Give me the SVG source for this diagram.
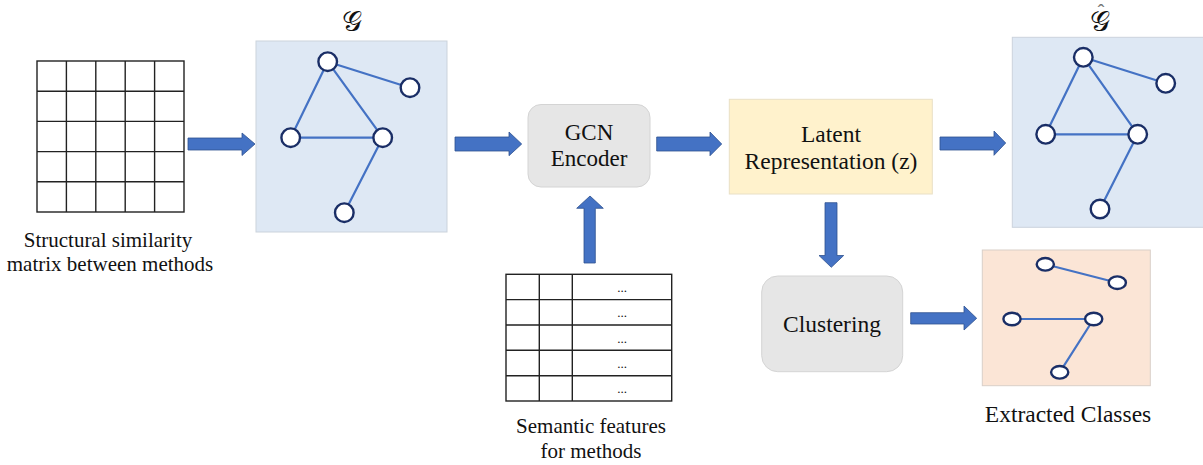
<svg xmlns="http://www.w3.org/2000/svg" width="1203" height="465" viewBox="0 0 1203 465">
<style>
.t{font-family:"Liberation Serif","Times New Roman",serif;fill:#111;text-anchor:middle}
.s21{font-size:21px}
.grid{fill:none;stroke:#222;stroke-width:1.4}
.edge{stroke:#4472c4;stroke-width:2.2;fill:none}
.node{fill:#fff;stroke:#1a2e66;stroke-width:2.4}
.arrow{fill:#4472c4;stroke:#2f528f;stroke-width:0.8}
.gbox{fill:#dee8f4;stroke:#cbd3dc;stroke-width:1}
.math{font-family:"DejaVu Serif","DejaVu Sans","Noto Sans",serif;font-size:28px;fill:#111;text-anchor:middle}
.hat{font-family:"Liberation Sans","DejaVu Sans",sans-serif;font-size:20px;fill:#777;text-anchor:middle}
</style>

<g id="matrix">
<rect class="grid" x="37" y="61" width="147" height="151"/>
<path class="grid" d="M66.4 61V212M95.8 61V212M125.2 61V212M154.6 61V212M37 91.2H184M37 121.4H184M37 151.6H184M37 181.8H184"/>
<text class="t s21" x="108" y="247">Structural similarity</text>
<text class="t s21" x="110" y="271">matrix between methods</text>
</g>

<g id="graph-g">
<text class="math" x="352" y="31">𝒢</text>
<rect class="gbox" x="256" y="41" width="191" height="191"/>
<path class="edge" d="M327.7 61.7L410 87.7M327.7 61.7L290.7 137.7M327.7 61.7L382.7 137.7M290.7 137.7H382.7M382.7 137.7L344.3 212.7"/>
<circle class="node" cx="327.7" cy="61.7" r="9.3"/>
<circle class="node" cx="410" cy="87.7" r="9.3"/>
<circle class="node" cx="290.7" cy="137.7" r="9.3"/>
<circle class="node" cx="382.7" cy="137.7" r="9.3"/>
<circle class="node" cx="344.3" cy="212.7" r="9.3"/>
</g>

<g id="gcn-encoder">
<rect x="528" y="104.5" width="122" height="82.5" rx="13" fill="#e6e6e6" stroke="#d4d4d4" stroke-width="1"/>
<text class="t" font-size="23" x="589" y="140">GCN</text>
<text class="t" font-size="23" x="589" y="166">Encoder</text>
</g>

<g id="features">
<rect class="grid" x="506" y="274.3" width="165.7" height="126.7"/>
<path class="grid" d="M539.3 274.3V401M572.3 274.3V401M506 299.6H671.7M506 325H671.7M506 350.3H671.7M506 375.7H671.7"/>
<g class="t" font-size="13">
<text x="622" y="292">...</text>
<text x="622" y="317">...</text>
<text x="622" y="343">...</text>
<text x="622" y="368">...</text>
<text x="622" y="393">...</text>
</g>
<text class="t s21" x="591" y="433">Semantic features</text>
<text class="t s21" x="591" y="458">for methods</text>
</g>

<g id="latent">
<rect x="729.3" y="99.3" width="203" height="94.7" fill="#fff2cc" stroke="#e9e0c6" stroke-width="1"/>
<text class="t" font-size="23.5" x="831" y="142">Latent</text>
<text class="t" font-size="23.5" x="831" y="169">Representation (z)</text>
</g>

<g id="graph-ghat">
<text class="hat" x="1101" y="19">ˆ</text>
<text class="math" x="1100" y="31">𝒢</text>
<rect class="gbox" x="1012.3" y="37.3" width="195" height="190"/>
<path class="edge" d="M1083.3 57.3L1165.7 83.3M1083.3 57.3L1045.7 134.3M1083.3 57.3L1137.7 134.3M1045.7 134.3H1137.7M1137.7 134.3L1100 209"/>
<circle class="node" cx="1083.3" cy="57.3" r="9.3"/>
<circle class="node" cx="1165.7" cy="83.3" r="9.3"/>
<circle class="node" cx="1045.7" cy="134.3" r="9.3"/>
<circle class="node" cx="1137.7" cy="134.3" r="9.3"/>
<circle class="node" cx="1100" cy="209" r="9.3"/>
</g>

<g id="clustering">
<rect x="761.7" y="276" width="141" height="95.7" rx="16" fill="#e6e6e6" stroke="#d4d4d4" stroke-width="1"/>
<text class="t" font-size="23.5" x="832" y="332">Clustering</text>
</g>

<g id="extracted-classes">
<rect x="982.3" y="250" width="168" height="135.7" fill="#fbe5d6" stroke="#d9cfc8" stroke-width="1"/>
<path class="edge" d="M1045.3 264.3L1117.3 282.7M1012 319H1093.7M1093.7 319L1059.7 372.3"/>
<ellipse class="node" cx="1045.3" cy="264.3" rx="8.6" ry="6.3"/>
<ellipse class="node" cx="1117.3" cy="282.7" rx="8.6" ry="6.3"/>
<ellipse class="node" cx="1012" cy="319" rx="8.6" ry="6.3"/>
<ellipse class="node" cx="1093.7" cy="319" rx="8.6" ry="6.3"/>
<ellipse class="node" cx="1059.7" cy="372.3" rx="8.6" ry="6.3"/>
<text class="t" font-size="23.5" x="1068" y="422">Extracted Classes</text>
</g>

<g id="connectors">
<path class="arrow" d="M188 138H242V133L255 144L242 155.5V150H188Z"/>
<path class="arrow" d="M455 137H509V132L521.7 144L509 155.7V151H455Z"/>
<path class="arrow" d="M656.7 137H710V132L721.7 144L710 155.7V151H656.7Z"/>
<path class="arrow" d="M940 137H994V131L1005.7 143L994 155.3V150H940Z"/>
<path class="arrow" d="M584 263V208.3H576.7L590 196L603.3 208.3H595.3V263Z"/>
<path class="arrow" d="M825 202.7V255.5H819L831.3 267.3L843.7 255.5H837V202.7Z"/>
<path class="arrow" d="M910.7 312.7H964V306L976.7 318.3L964 330V324H910.7Z"/>
</g>
</svg>
